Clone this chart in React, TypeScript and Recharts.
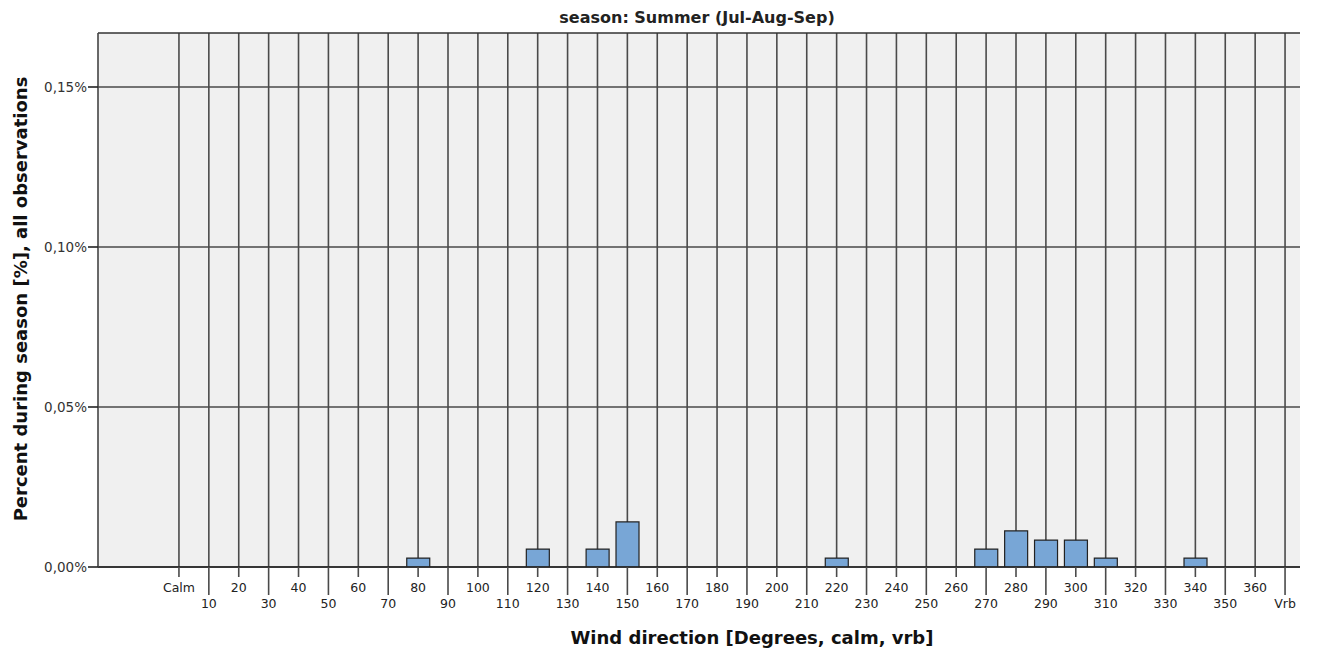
import React from "react";
import {
  BarChart,
  Bar,
  XAxis,
  YAxis,
  CartesianGrid,
  ReferenceLine,
  Label
} from "recharts";

const directions = [
  "Calm", "10", "20", "30", "40", "50", "60", "70", "80", "90",
  "100", "110", "120", "130", "140", "150", "160", "170", "180", "190",
  "200", "210", "220", "230", "240", "250", "260", "270", "280", "290",
  "300", "310", "320", "330", "340", "350", "360", "Vrb"
];

const percents = [
  0, 0, 0, 0, 0, 0, 0, 0, 0.0028, 0,
  0, 0, 0.0056, 0, 0.0056, 0.0141, 0, 0, 0, 0,
  0, 0, 0.0028, 0, 0, 0, 0, 0.0056, 0.0113, 0.0084,
  0.0084, 0.0028, 0, 0, 0.0028, 0, 0, 0
];

const yTicks = [0, 0.05, 0.1, 0.15];
const yMax = 0.166875;

const data = directions.map((dir, i) => ({ dir, pct: percents[i] }));

const FONT = "'DejaVu Sans', Verdana, sans-serif";
const GRID = "#4a4a4a";

const fmtPct = (v: number) => v.toFixed(2).replace(".", ",") + "%";

const DirTick = (props: any) => {
  const { x, y, payload } = props;
  const odd = payload.index % 2 === 1;
  return (
    <g>
      <line x1={x} x2={x} y1={y} y2={y + (odd ? 28 : 10)} stroke={GRID} strokeWidth={1.6} />
      <text
        x={x}
        y={y + (odd ? 36 : 20)}
        textAnchor="middle"
        dominantBaseline="central"
        fontFamily={FONT}
        fontSize={12.5}
        fill="#222"
      >
        {payload.value}
      </text>
    </g>
  );
};

export default function App() {
  return (
    <div style={{ position: "absolute", left: 0, top: 0, background: "#fff" }}>
      <BarChart
        width={1317}
        height={653}
        data={data}
        margin={{ top: 33, right: 17, bottom: 26, left: 0 }}
        barCategoryGap="12%"
      >
        <text
          x={697}
          y={17}
          textAnchor="middle"
          dominantBaseline="central"
          fontFamily={FONT}
          fontSize={16}
          fontWeight="bold"
          fill="#222"
        >
          season: Summer (Jul-Aug-Sep)
        </text>
        <CartesianGrid fill="#f0f0f0" stroke={GRID} strokeWidth={1.6} syncWithTicks />
        <XAxis
          dataKey="dir"
          interval={0}
          height={60}
          padding={{ left: 66, right: 0 }}
          tickSize={0}
          tickMargin={0}
          tickLine={false}
          tick={<DirTick />}
          axisLine={{ stroke: "#222", strokeWidth: 1.6 }}
        >
          <Label
            content={(p: any) => {
              const vb = p.viewBox;
              return (
                <text
                  x={vb.x + vb.width / 2 + 53}
                  y={vb.y + 70}
                  textAnchor="middle"
                  dominantBaseline="central"
                  fontFamily={FONT}
                  fontSize={18}
                  fontWeight="bold"
                  fill="#111"
                >
                  Wind direction [Degrees, calm, vrb]
                </text>
              );
            }}
          />
        </XAxis>
        <YAxis
          width={98}
          domain={[0, yMax]}
          ticks={yTicks}
          tickFormatter={fmtPct}
          tickSize={10}
          tickMargin={1}
          tick={{ fontFamily: FONT, fontSize: 13.5, fill: "#333" }}
          tickLine={{ stroke: "#222", strokeWidth: 1.6 }}
          axisLine={{ stroke: "#444", strokeWidth: 1.6 }}
          allowDataOverflow
        >
          <Label
            content={(p: any) => {
              const vb = p.viewBox;
              const cx = 20;
              const cy = vb.y + vb.height / 2 - 1;
              return (
                <text
                  x={cx}
                  y={cy}
                  transform={`rotate(-90 ${cx} ${cy})`}
                  textAnchor="middle"
                  dominantBaseline="central"
                  fontFamily={FONT}
                  fontSize={18}
                  fontWeight="bold"
                  fill="#111"
                >
                  Percent during season [%], all observations
                </text>
              );
            }}
          />
        </YAxis>
        <ReferenceLine y={yMax} stroke="#333" strokeWidth={1.6} />
        <Bar
          dataKey="pct"
          fill="#78a6d6"
          stroke="#222"
          strokeWidth={1.2}
          isAnimationActive={false}
        />
      </BarChart>
    </div>
  );
}
